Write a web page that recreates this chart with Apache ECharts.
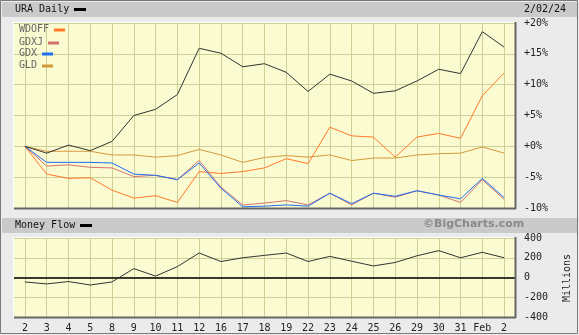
<!DOCTYPE html>
<html><head><meta charset="utf-8">
<script src="https://cdn.jsdelivr.net/npm/echarts@6/dist/echarts.min.js"></script>
<style>html,body{margin:0;padding:0;background:#ebebeb}#c{width:579px;height:335px}</style>
</head><body><div id="c"></div>
<script>
const categories = ['2','3','4','5','8','9','10','11','12','16','17','18','19','22','23','24','25','26','29','30','31','Feb','2'];
const ura   = [0,-1.1,0.2,-0.7,0.8,5.0,6.0,8.4,15.9,15.1,12.9,13.4,12.0,8.9,11.7,10.6,8.6,9.0,10.6,12.5,11.8,18.6,16.1];
const wdoff = [0,-4.5,-5.2,-5.1,-7.1,-8.4,-8.0,-9.1,-4.1,-4.4,-4.1,-3.5,-2.0,-2.8,3.1,1.7,1.5,-1.75,1.5,2.1,1.3,8.2,11.9];
const gdxj  = [0,-3.2,-3.0,-3.4,-3.5,-4.9,-4.7,-5.4,-2.3,-6.6,-9.5,-9.2,-8.8,-9.5,-7.6,-9.5,-7.6,-8.25,-7.2,-7.9,-9.1,-5.4,-8.6];
const gdx   = [0,-2.6,-2.6,-2.6,-2.7,-4.5,-4.7,-5.4,-2.7,-6.8,-9.8,-9.7,-9.5,-9.7,-7.6,-9.3,-7.6,-8.1,-7.2,-7.9,-8.5,-5.2,-8.3];
const gld   = [0,-0.8,-0.8,-0.8,-1.4,-1.4,-1.75,-1.5,-0.5,-1.4,-2.6,-1.8,-1.5,-1.75,-1.4,-2.3,-1.9,-1.9,-1.4,-1.2,-1.1,-0.1,-1.1];
const moneyFlow = [-45,-65,-41,-76,-45,90,14,110,248,162,200,224,248,162,214,165,117,152,220,272,200,255,200];
const pctTicks = [-10,-5,0,5,10,15,20];
const mfTicks = [-400,-200,0,200,400];

const FONT = 'DejaVu Sans Mono';
const GRIDC = '#cfcf98';
const BG = '#fbfbd2';
const chart = echarts.init(document.getElementById('c'), null, {renderer:'canvas'});

const gTop = {left:14, top:23, width:501, height:185};
const gBot = {left:14, top:238, width:501, height:79};

function pctFmt(v){ return v>0 ? '+'+v+'%' : (v===0 ? '+0%' : v+'%'); }

function xAxisDef(idx, showLabels){
  return {type:'category', gridIndex:idx, data:categories, boundaryGap:true,
    axisLine:{show:false}, axisTick:{show:false},
    axisLabel:{show:showLabels, interval:0, color:'#222', fontFamily:FONT, fontSize:10, margin:6},
    splitLine:{show:true, interval:0, alignWithLabel:true, lineStyle:{color:GRIDC, width:1}}};
}
function line(name, data, color, z, xi, yi){
  return {name, type:'line', data, xAxisIndex:xi||0, yAxisIndex:yi||0, symbol:'none', smooth:false,
    lineStyle:{color, width:1}, itemStyle:{color}, z, silent:true, animation:false};
}

const legend = [['WDOFF','#ff7a26',19,30],['GDXJ','#d47272',19,43],['GDX','#1e6ef0',19,54],['GLD','#d49a3a',19,66]];
const legendGraphics = [];
legend.forEach(([t,c,x,y])=>{
  const w = t.length*6;
  legendGraphics.push({type:'text', left:x, top:y-6, style:{text:t, fill:'#666', font:'10px '+FONT}, z:50});
  legendGraphics.push({type:'rect', shape:{x:x+w+5, y:y-1.5, width:11, height:3}, style:{fill:c}, z:50});
});

chart.setOption({
  animation:false,
  backgroundColor:'#ebebeb',
  grid:[
    Object.assign({show:true, backgroundColor:BG, borderWidth:0}, gTop),
    Object.assign({show:true, backgroundColor:BG, borderWidth:0}, gBot)
  ],
  xAxis:[xAxisDef(0,false), xAxisDef(1,true)],
  yAxis:[
    {type:'value', gridIndex:0, position:'right', min:-10, max:20, interval:5,
     axisLine:{show:false}, axisTick:{show:false},
     axisLabel:{formatter:pctFmt, color:'#222', fontFamily:FONT, fontSize:10, margin:9},
     splitLine:{show:true, lineStyle:{color:GRIDC, width:1}}},
    {type:'value', gridIndex:1, position:'right', min:-400, max:400, interval:200,
     axisLine:{show:false}, axisTick:{show:false},
     axisLabel:{color:'#222', fontFamily:FONT, fontSize:10, margin:9},
     splitLine:{show:true, lineStyle:{color:GRIDC, width:1}}}
  ],
  series:[
    line('GLD', gld, '#d49a3a', 3),
    line('WDOFF', wdoff, '#ff7a26', 4),
    line('GDXJ', gdxj, '#d47272', 5),
    line('GDX', gdx, '#1e6ef0', 6),
    line('URA', ura, '#333333', 7),
    Object.assign(line('Money Flow', moneyFlow, '#333333', 7, 1, 1), {
      markLine:{silent:true, symbol:'none', label:{show:false}, animation:false,
        lineStyle:{color:'#000', width:1.5, type:'solid'}, data:[{yAxis:0}]}
    })
  ],
  graphic:[
    // frame
    {type:'rect', shape:{x:0.5,y:0.5,width:577,height:333}, style:{fill:null, stroke:'#7a7a7a', lineWidth:1}, z:1},
    // title bands
    {type:'rect', shape:{x:2,y:2,width:575,height:15}, style:{fill:'#cacaca'}, z:1},
    {type:'rect', shape:{x:2,y:218,width:575,height:15}, style:{fill:'#cacaca'}, z:1},
    {type:'text', left:15, top:4, style:{text:'URA Daily', fill:'#111', font:'10px '+FONT}, z:50},
    {type:'rect', shape:{x:74,y:8,width:12,height:3}, style:{fill:'#000'}, z:50},
    {type:'text', left:524, top:4, style:{text:'2/02/24', fill:'#111', font:'10px '+FONT}, z:50},
    {type:'text', left:15, top:220, style:{text:'Money Flow', fill:'#111', font:'10px '+FONT}, z:50},
    {type:'rect', shape:{x:80,y:224,width:12,height:3}, style:{fill:'#000'}, z:50},
    {type:'text', left:423, top:219, style:{text:'\u00a9BigCharts.com', fill:'#8a8a8a', font:'bold 11px DejaVu Sans'}, z:50},
    {type:'text', x:567, y:278, rotation:Math.PI/2, style:{text:'Millions', fill:'#222', font:'10px '+FONT, align:'center', verticalAlign:'middle'}, z:50},
    // plot borders (inset look)
    {type:'line', shape:{x1:14,y1:22.5,x2:515,y2:22.5}, style:{stroke:'#ffffff', lineWidth:1}, z:40},
    {type:'line', shape:{x1:13.5,y1:22,x2:13.5,y2:208}, style:{stroke:'#ffffff', lineWidth:1}, z:40},
    {type:'line', shape:{x1:14,y1:208.5,x2:516,y2:208.5}, style:{stroke:'#666', lineWidth:2}, z:40},
    {type:'line', shape:{x1:515.5,y1:22,x2:515.5,y2:209}, style:{stroke:'#666', lineWidth:2}, z:40},
    {type:'line', shape:{x1:14,y1:237.5,x2:515,y2:237.5}, style:{stroke:'#ffffff', lineWidth:1}, z:40},
    {type:'line', shape:{x1:13.5,y1:237,x2:13.5,y2:317}, style:{stroke:'#ffffff', lineWidth:1}, z:40},
    {type:'line', shape:{x1:14,y1:317.5,x2:516,y2:317.5}, style:{stroke:'#666', lineWidth:2}, z:40},
    {type:'line', shape:{x1:515.5,y1:237,x2:515.5,y2:318}, style:{stroke:'#666', lineWidth:2}, z:40}
  ].concat(legendGraphics)
});
</script></body></html>
